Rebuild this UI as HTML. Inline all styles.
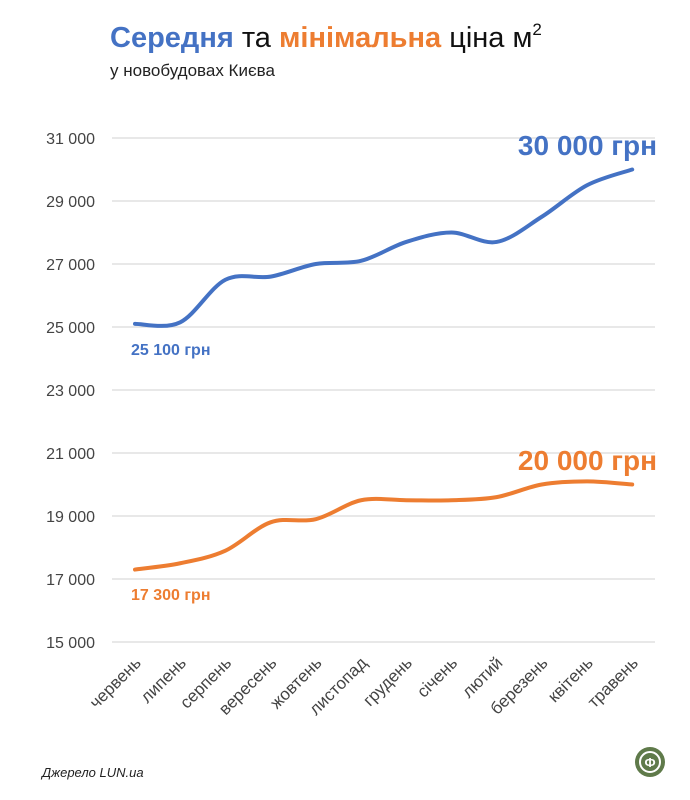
<!DOCTYPE html>
<html><head><meta charset="utf-8"><style>
html,body{margin:0;padding:0;background:#fff;}
svg{display:block;font-family:"Liberation Sans","DejaVu Sans",sans-serif;}
</style></head><body>
<svg id="s" width="690" height="800" viewBox="0 0 690 800" xmlns="http://www.w3.org/2000/svg">
<text x="110" y="47" font-size="29" fill="#111"><tspan fill="#4472c4" font-weight="bold">Середня</tspan> та <tspan fill="#ed7d31" font-weight="bold">мінімальна</tspan> ціна м<tspan font-size="17" dy="-12">2</tspan></text>
<text x="110" y="76" font-size="17" fill="#222">у новобудовах Києва</text>
<g id="grid" stroke="#d9d9d9" stroke-width="1.3"></g>
<g id="yl" font-size="16" fill="#444" text-anchor="end"></g>
<g id="xl" font-size="17" fill="#444" text-anchor="end"></g>
<path id="pb" fill="none" stroke="#4472c4" stroke-width="4" stroke-linecap="round"/>
<path id="po" fill="none" stroke="#ed7d31" stroke-width="4" stroke-linecap="round"/>
<text x="657" y="155" font-size="28" font-weight="bold" fill="#4472c4" text-anchor="end">30 000 грн</text>
<text x="657" y="470" font-size="28" font-weight="bold" fill="#ed7d31" text-anchor="end">20 000 грн</text>
<text x="131" y="355" font-size="16" font-weight="bold" fill="#4472c4">25 100 грн</text>
<text x="131" y="600" font-size="16" font-weight="bold" fill="#ed7d31">17 300 грн</text>
<text x="42" y="777" font-size="13" font-style="italic" fill="#222">Джерело LUN.ua</text>
<circle cx="650" cy="762" r="15" fill="#5f7a4a"/>
<circle cx="650" cy="762" r="10" fill="none" stroke="#fff" stroke-width="2"/>
<text x="650" y="767" font-size="13" font-weight="bold" fill="#fff" text-anchor="middle">Ф</text>
</svg>
<script>
var ns="http://www.w3.org/2000/svg";
function Y(v){return 642-(v-15000)*63/2000;}
var g=document.getElementById('grid'),yl=document.getElementById('yl'),xl=document.getElementById('xl');
for(var v=15000;v<=31000;v+=2000){
 var l=document.createElementNS(ns,'line');l.setAttribute('x1',112);l.setAttribute('x2',655);l.setAttribute('y1',Y(v));l.setAttribute('y2',Y(v));g.appendChild(l);
 var t=document.createElementNS(ns,'text');t.setAttribute('x',95);t.setAttribute('y',Y(v)+6);t.textContent=(v/1000|0)+' 000';yl.appendChild(t);
}
var m=["червень","липень","серпень","вересень","жовтень","листопад","грудень","січень","лютий","березень","квітень","травень"];
function X(i){return 135+i*45.2;}
m.forEach(function(n,i){var t=document.createElementNS(ns,'text');var x=X(i)+7,y=664;t.setAttribute('x',x);t.setAttribute('y',y);t.setAttribute('transform','rotate(-45 '+x+' '+y+')');t.textContent=n;xl.appendChild(t);});
function path(d){var p=d.map(function(v,i){return [X(i),Y(v)];});var s='M'+p[0][0]+','+p[0][1];
for(var i=0;i<p.length-1;i++){var p0=p[i-1]||p[i],p1=p[i],p2=p[i+1],p3=p[i+2]||p2;var k=6;
s+=' C'+(p1[0]+(p2[0]-p0[0])/k)+','+(p1[1]+(p2[1]-p0[1])/k)+' '+(p2[0]-(p3[0]-p1[0])/k)+','+(p2[1]-(p3[1]-p1[1])/k)+' '+p2[0]+','+p2[1];}return s;}
document.getElementById('pb').setAttribute('d',path([25100,25150,26500,26600,27000,27100,27700,28000,27700,28500,29500,30000]));
document.getElementById('po').setAttribute('d',path([17300,17500,17900,18800,18900,19500,19500,19500,19600,20000,20100,20000]));
</script>
</body></html>
